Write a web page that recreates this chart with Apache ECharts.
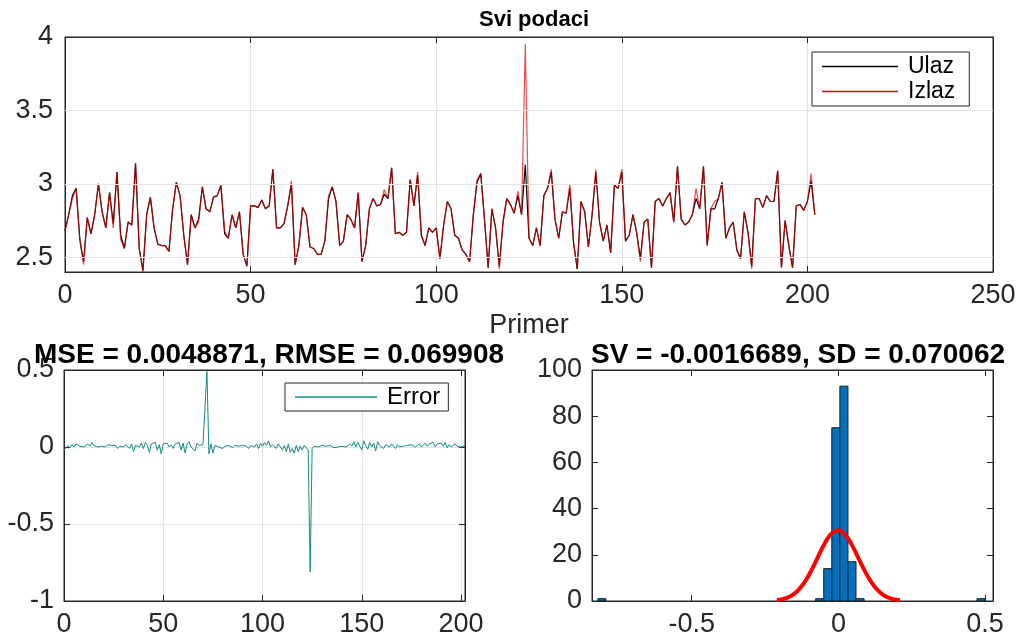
<!DOCTYPE html>
<html>
<head>
<meta charset="utf-8">
<script src="https://cdn.jsdelivr.net/npm/echarts@6/dist/echarts.min.js"></script>
<style>
html,body{margin:0;padding:0;background:#fff;}
#c{width:1021px;height:638px;}
</style>
</head>
<body>
<div id="c"></div>
<script>
// ---- data ----
const ulaz = [
2.68,2.79,2.92,2.97,2.62,2.47,2.77,2.66,2.79,3.00,2.81,2.70,2.94,2.73,3.08,2.65,2.56,2.74,2.72,3.14,
2.56,2.41,2.79,2.91,2.70,2.59,2.58,2.58,2.54,2.83,3.01,2.92,2.65,2.45,2.79,2.70,2.76,2.98,2.83,2.81,
2.91,2.92,2.99,2.66,2.63,2.79,2.70,2.81,2.52,2.44,2.85,2.85,2.84,2.89,2.83,2.85,3.10,2.70,2.70,2.73,
2.85,3.00,2.45,2.58,2.84,2.79,2.57,2.56,2.52,2.52,2.61,2.90,2.98,2.88,2.58,2.61,2.79,2.76,2.70,2.94,
2.47,2.58,2.83,2.90,2.85,2.86,2.93,2.90,3.11,2.66,2.67,2.65,2.67,3.03,2.85,3.06,2.65,2.58,2.70,2.67,
2.70,2.49,2.72,2.88,2.83,2.65,2.63,2.55,2.52,2.47,2.79,3.01,3.07,2.76,2.43,2.83,2.70,2.44,2.74,2.90,
2.86,2.80,2.92,2.79,3.13,2.63,2.58,2.70,2.58,2.92,2.97,3.08,2.76,2.63,2.81,2.80,2.97,2.60,2.42,2.88,
2.81,2.57,2.79,3.08,2.74,2.61,2.72,2.53,2.99,2.97,3.08,2.61,2.65,2.79,2.67,2.49,2.74,2.76,2.43,2.88,
2.90,2.85,2.90,2.94,2.74,3.12,2.76,2.72,2.74,2.79,2.90,2.83,3.12,2.58,2.83,2.83,2.90,3.01,2.63,2.70,
2.74,2.55,2.49,2.81,2.67,2.44,2.90,2.90,2.84,2.92,2.88,2.88,3.09,2.43,2.75,2.58,2.43,2.85,2.86,2.82,
2.88,3.02,2.79
];
const izlaz = [
2.68,2.79,2.90,2.97,2.62,2.45,2.77,2.66,2.79,3.00,2.81,2.70,2.94,2.70,3.08,2.62,2.56,2.74,2.72,3.14,
2.56,2.40,2.79,2.91,2.70,2.59,2.58,2.58,2.54,2.83,3.01,2.92,2.65,2.45,2.79,2.70,2.74,2.98,2.83,2.81,
2.91,2.92,2.99,2.68,2.63,2.79,2.70,2.81,2.52,2.44,2.85,2.85,2.84,2.89,2.83,2.85,3.10,2.70,2.70,2.73,
2.85,3.02,2.45,2.58,2.84,2.79,2.57,2.56,2.52,2.52,2.61,2.92,2.98,2.88,2.58,2.61,2.79,2.76,2.70,2.94,
2.47,2.58,2.83,2.90,2.85,2.86,2.96,2.90,3.11,2.66,2.67,2.65,2.67,3.03,2.85,3.08,2.65,2.58,2.70,2.67,
2.70,2.49,2.72,2.88,2.83,2.65,2.63,2.55,2.52,2.47,2.79,3.03,3.07,2.76,2.43,2.83,2.70,2.42,2.74,2.90,
2.86,2.80,2.95,2.79,3.95,2.63,2.58,2.70,2.58,2.92,2.97,3.10,2.76,2.63,2.81,2.80,3.00,2.60,2.42,2.88,
2.81,2.57,2.79,3.10,2.74,2.61,2.72,2.53,2.99,2.97,3.10,2.61,2.65,2.79,2.67,2.47,2.74,2.76,2.43,2.88,
2.90,2.85,2.90,2.94,2.74,3.12,2.76,2.72,2.74,2.79,2.97,2.83,3.12,2.58,2.83,2.88,2.90,3.01,2.63,2.70,
2.74,2.55,2.49,2.81,2.67,2.42,2.90,2.90,2.84,2.92,2.88,2.88,3.09,2.43,2.75,2.58,2.43,2.85,2.86,2.82,
2.88,3.07,2.79
];
const errorVals = [
-0.02,-0.01,0.01,-0.005,0.015,0.0,0.02,0.01,0.005,0.015,
0.0,0.01,0.02,0.005,0.03,0.01,0.02,0.0,0.01,0.005,
0.01,0.0,0.015,0.005,0.01,0.0,0.01,-0.01,0.005,0.01,
0.0,0.015,0.005,-0.01,0.02,-0.03,0.01,0.02,0.0,0.025,
-0.01,0.03,0.01,-0.035,0.02,0.01,0.03,-0.02,0.015,-0.045,
0.02,0.01,0.025,0.0,0.015,-0.01,0.02,0.01,0.03,-0.02,
0.025,-0.04,0.02,0.035,0.0,0.01,-0.025,0.025,0.01,0.0,
0.015,0.005,0.49,-0.045,0.02,-0.04,0.01,0.02,0.0,0.01,
-0.01,0.005,0.0,0.01,0.0,-0.005,0.01,0.0,0.005,0.0,
0.01,0.0,0.005,-0.01,0.01,0.005,0.0,0.02,-0.01,0.025,
0.005,0.03,0.01,0.04,0.0,0.015,0.005,-0.01,0.02,0.01,
-0.02,0.01,-0.03,0.02,-0.035,-0.01,-0.04,0.01,-0.03,0.005,
-0.02,0.01,0.0,-0.02,-0.81,-0.01,0.005,0.01,0.0,0.005,
0.01,0.0,0.005,0.0,0.01,0.0,-0.005,0.005,0.0,0.01,
0.005,0.015,0.0,0.01,0.02,0.005,0.035,0.0,0.03,0.02,
-0.02,0.04,0.01,-0.015,0.03,0.0,0.025,-0.025,0.035,0.01,
0.02,-0.01,0.015,0.005,0.0,0.02,0.01,-0.01,0.015,0.0,
0.01,0.005,0.0,0.01,0.0,0.015,0.005,0.0,0.01,0.02,
0.0,0.01,0.025,0.005,0.02,0.01,0.03,0.0,0.02,0.01,
0.025,0.005,0.03,-0.005,0.015,0.0,-0.01,0.02,0.005,0.01,
0.0,-0.01,0.01
];
// histogram bins (lower edge, upper edge, count)
const histLow   = [-0.82, -0.0775, -0.05, -0.0225, 0.005, 0.0325, 0.06, 0.4725];
const histHigh  = [-0.7925, -0.05, -0.0225, 0.005, 0.0325, 0.06, 0.0875, 0.50];
const histCount = [1, 1, 14, 75, 93, 17, 1, 1];
// fitted normal curve
const curveX = [-0.21,-0.19,-0.17,-0.15,-0.13,-0.11,-0.09,-0.07,-0.05,-0.03,-0.01,0.0,0.01,0.03,0.05,0.07,0.09,0.11,0.13,0.15,0.17,0.19,0.21];
const curveY = [0.4,0.8,1.7,3.2,5.7,9.2,13.8,19.0,24.1,28.2,30.4,30.6,30.2,27.6,23.3,18.1,13.0,8.6,5.2,2.9,1.5,0.7,0.3];
const topYTicks = [2.5, 3, 3.5, 4];
const histXTicks = [-0.5, 0, 0.5];
const titles = ['Svi podaci', 'MSE = 0.0048871, RMSE = 0.069908', 'SV = -0.0016689, SD = 0.070062'];

// ---- chart ----
const FONT = 'Liberation Sans';
const AX = '#262626';
const GRIDC = '#e3e3e3';
const chart = echarts.init(document.getElementById('c'), null, {renderer: 'canvas'});

const idx = ulaz.map((_, i) => i);
const ulazData = idx.map(i => [i, ulaz[i]]);
const izlazData = idx.map(i => [i, izlaz[i]]);
const errData = idx.map(i => [i, errorVals[i]]);
const histData = histLow.map((l, i) => [l, histHigh[i], histCount[i]]);
const curveData = curveX.map((x, i) => [x, curveY[i]]);

const lbl = {fontFamily: FONT, fontSize: 27, color: AX};
const tick = {show: true, inside: true, length: 6, lineStyle: {color: AX}};

function baseAxis(extra) {
  return Object.assign({
    axisLine: {show: true, onZero: false, lineStyle: {color: AX, width: 1}},
    axisTick: tick,
    axisLabel: Object.assign({margin: 10}, lbl),
    splitLine: {show: true, lineStyle: {color: GRIDC, width: 1}}
  }, extra);
}
function mirrorAxis(extra) {
  return Object.assign({
    type: 'value',
    axisLine: {show: true, onZero: false, lineStyle: {color: AX, width: 1}},
    axisTick: tick,
    axisLabel: {show: false},
    splitLine: {show: false}
  }, extra);
}

const option = {
  animation: false,
  backgroundColor: '#fff',
  title: [
    {text: titles[0], left: 529, top: 4, textAlign: 'center', textStyle: {fontFamily: FONT, fontSize: 22, fontWeight: 'bold', color: '#000'}},
    {text: titles[1], left: 264, top: 336, textAlign: 'center', textStyle: {fontFamily: FONT, fontSize: 28, fontWeight: 'bold', color: '#000'}},
    {text: titles[2], left: 793, top: 336, textAlign: 'center', textStyle: {fontFamily: FONT, fontSize: 28, fontWeight: 'bold', color: '#000'}}
  ],
  legend: [
    {
      data: ['Ulaz', 'Izlaz'], orient: 'vertical', left: 812, top: 52,
      backgroundColor: '#fff', borderColor: AX, borderWidth: 1, padding: [3, 14, 3, 10],
      icon: 'rect', itemWidth: 76, itemHeight: 1.5, itemGap: 2,
      textStyle: {fontFamily: FONT, fontSize: 23, color: '#000', padding: [0, 0, 0, 5]}
    },
    {
      data: ['Error'], orient: 'vertical', left: 285, top: 383,
      backgroundColor: '#fff', borderColor: AX, borderWidth: 1, padding: [2, 8, 2, 10],
      icon: 'rect', itemWidth: 82, itemHeight: 1.5,
      textStyle: {fontFamily: FONT, fontSize: 24, color: '#000', padding: [0, 0, 0, 5]}
    }
  ],
  grid: [
    {left: 65, top: 37, width: 928, height: 235, show: true, borderColor: AX, borderWidth: 1, backgroundColor: 'transparent'},
    {left: 64, top: 370, width: 401, height: 235, show: true, borderColor: AX, borderWidth: 1, backgroundColor: 'transparent'},
    {left: 592, top: 370, width: 401, height: 235, show: true, borderColor: AX, borderWidth: 1, backgroundColor: 'transparent'}
  ],
  xAxis: [
    baseAxis({type: 'value', gridIndex: 0, min: 0, max: 250, interval: 50,
      name: 'Primer', nameLocation: 'middle', nameGap: 40,
      nameTextStyle: {fontFamily: FONT, fontSize: 27, color: AX}}),
    baseAxis({type: 'value', gridIndex: 1, min: 0, max: 202, interval: 50,
      axisLabel: Object.assign({margin: 10, showMaxLabel: false}, lbl)}),
    baseAxis({type: 'value', gridIndex: 2, min: -0.84, max: 0.527,
      axisTick: Object.assign({customValues: histXTicks}, tick),
      axisLabel: Object.assign({margin: 10, customValues: histXTicks}, lbl),
      splitLine: {show: false}}),
    mirrorAxis({gridIndex: 0, position: 'top', min: 0, max: 250, interval: 50}),
    mirrorAxis({gridIndex: 1, position: 'top', min: 0, max: 202, interval: 50}),
    mirrorAxis({gridIndex: 2, position: 'top', min: -0.84, max: 0.527,
      axisTick: Object.assign({customValues: histXTicks}, tick)})
  ],
  yAxis: [
    baseAxis({type: 'value', gridIndex: 0, min: 2.4, max: 4,
      axisTick: Object.assign({customValues: topYTicks}, tick),
      axisLabel: Object.assign({margin: 12, customValues: topYTicks}, lbl),
      splitLine: {show: false}}),
    baseAxis({type: 'value', gridIndex: 1, min: -1, max: 0.5, interval: 0.5}),
    baseAxis({type: 'value', gridIndex: 2, min: 0, max: 100, interval: 20, splitLine: {show: false}}),
    mirrorAxis({gridIndex: 0, position: 'right', min: 2.4, max: 4,
      axisTick: Object.assign({customValues: topYTicks}, tick)}),
    mirrorAxis({gridIndex: 1, position: 'right', min: -1, max: 0.5, interval: 0.5}),
    mirrorAxis({gridIndex: 2, position: 'right', min: 0, max: 100, interval: 20})
  ],
  series: [
    {
      name: 'grid-top', type: 'line', xAxisIndex: 0, yAxisIndex: 0, z: 1,
      data: [[0, 3]], symbol: 'none', lineStyle: {width: 0}, silent: true,
      markLine: {silent: true, symbol: 'none', label: {show: false},
        lineStyle: {color: GRIDC, type: 'solid', width: 1},
        data: topYTicks.slice(0, 3).map(v => ({yAxis: v}))}
    },
    {
      name: 'Ulaz', type: 'line', xAxisIndex: 0, yAxisIndex: 0, z: 3,
      data: ulazData, symbol: 'none', color: '#000',
      lineStyle: {color: '#000', width: 1.2}
    },
    {
      name: 'Izlaz', type: 'line', xAxisIndex: 0, yAxisIndex: 0, z: 4,
      data: izlazData, symbol: 'none', color: '#e00000',
      lineStyle: {color: '#e00000', width: 1.2, opacity: 0.7}
    },
    {
      name: 'Error', type: 'line', xAxisIndex: 1, yAxisIndex: 1,
      data: errData, symbol: 'none', color: '#178c80',
      lineStyle: {color: '#178c80', width: 1}
    },
    {
      name: 'hist', type: 'custom', xAxisIndex: 2, yAxisIndex: 2,
      data: histData, encode: {x: [0, 1], y: 2},
      renderItem: function (params, api) {
        const p0 = api.coord([api.value(0), api.value(2)]);
        const p1 = api.coord([api.value(1), 0]);
        return {type: 'rect',
          shape: {x: p0[0], y: p0[1], width: p1[0] - p0[0], height: p1[1] - p0[1]},
          style: {fill: '#0072BD', stroke: '#1a1a1a', lineWidth: 1}};
      }
    },
    {
      name: 'fit', type: 'line', xAxisIndex: 2, yAxisIndex: 2, z: 5,
      data: curveData, smooth: true, symbol: 'none', color: '#ff0000',
      lineStyle: {color: '#ff0000', width: 4}
    }
  ]
};
chart.setOption(option);
</script>
</body>
</html>
